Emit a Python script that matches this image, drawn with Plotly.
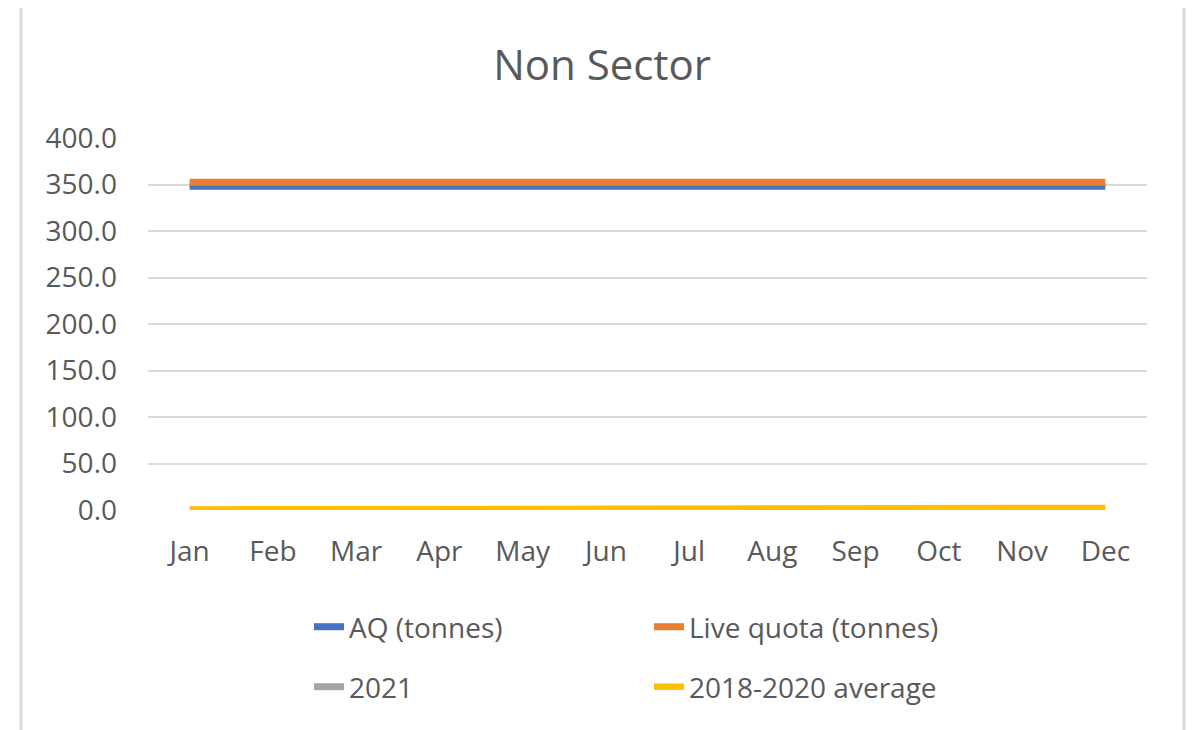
import plotly.graph_objects as go

months = ["Jan", "Feb", "Mar", "Apr", "May", "Jun", "Jul", "Aug", "Sep", "Oct", "Nov", "Dec"]
aq_tonnes = [348.0] * 12
live_quota = [352.4] * 12
y2021 = [None] * 12
avg_2018_2020 = [0.6, 0.6, 0.6, 0.6, 0.6, 2.2, 2.2, 2.2, 2.2, 2.2, 2.2, 2.2]
y_ticks = [0, 50, 100, 150, 200, 250, 300, 350, 400]

O = 8  # page body offset
W, H = 1195 - O, 730 - O
# plot area in reference (window) coordinates: x 148..1147, y 138..510
L, R, T, B = 148 - O, 1195 - 1147, 138 - O, 730 - 510
pw, ph = W - L - R, H - T - B

def px_x(px):  # window px -> paper
    return (px - O - L) / pw

def px_y(py):
    return (T + ph - (py - O)) / ph

FONT = "Open Sans"
GREY = "#595959"

fig = go.Figure()
fig.add_trace(go.Scatter(x=months, y=aq_tonnes, name="AQ (tonnes)", mode="lines",
                         line=dict(color="#4472C4", width=7), legend="legend"))
fig.add_trace(go.Scatter(x=months, y=live_quota, name="Live quota (tonnes)", mode="lines",
                         line=dict(color="#ED7D31", width=7), legend="legend"))
fig.add_trace(go.Scatter(x=months, y=y2021, name="2021", mode="lines",
                         line=dict(color="#A5A5A5", width=7), legend="legend2"))
fig.add_trace(go.Scatter(x=months, y=avg_2018_2020, name="2018-2020 average", mode="lines",
                         line=dict(color="#FFC000", width=6.5), legend="legend2"))

legend_common = dict(orientation="h", xanchor="left", yanchor="middle",
                     font=dict(family=FONT, size=28, color=GREY),
                     entrywidth=295, entrywidthmode="pixels",
                     bgcolor="rgba(0,0,0,0)", itemclick=False, itemdoubleclick=False)

fig.update_layout(
    width=W, height=H,
    margin=dict(l=L, r=R, t=T, b=B),
    paper_bgcolor="white", plot_bgcolor="white",
    title=dict(text="Non Sector", x=(602 - O) / W, xref="container", xanchor="center",
               y=1 - (65 - O) / H, yref="container", yanchor="middle",
               font=dict(family=FONT, size=42, color=GREY)),
    xaxis=dict(type="category", range=[-0.5, 11.5], showgrid=False, zeroline=False,
               showline=False, ticks="", ticklabelstandoff=22,
               tickfont=dict(family=FONT, size=28, color=GREY)),
    yaxis=dict(range=[0, 400], tickvals=y_ticks, tickformat=".1f", showgrid=True,
               gridcolor="#D9D9D9", gridwidth=2, zeroline=False, showline=False,
               ticks="", ticklabelstandoff=30,
               tickfont=dict(family=FONT, size=28, color=GREY)),
    legend=dict(x=px_x(309), y=px_y(627), **legend_common),
    legend2=dict(x=px_x(309), y=px_y(687), **legend_common),
    shapes=[dict(type="path", xref="paper", yref="paper",
                 path=f"M {px_x(21)} {px_y(760)} L {px_x(21)} {px_y(5)} L {px_x(1184)} {px_y(5)} L {px_x(1184)} {px_y(760)}",
                 line=dict(color="#D9D9D9", width=3))],
    showlegend=True,
)

fig.write_html("out.html")
